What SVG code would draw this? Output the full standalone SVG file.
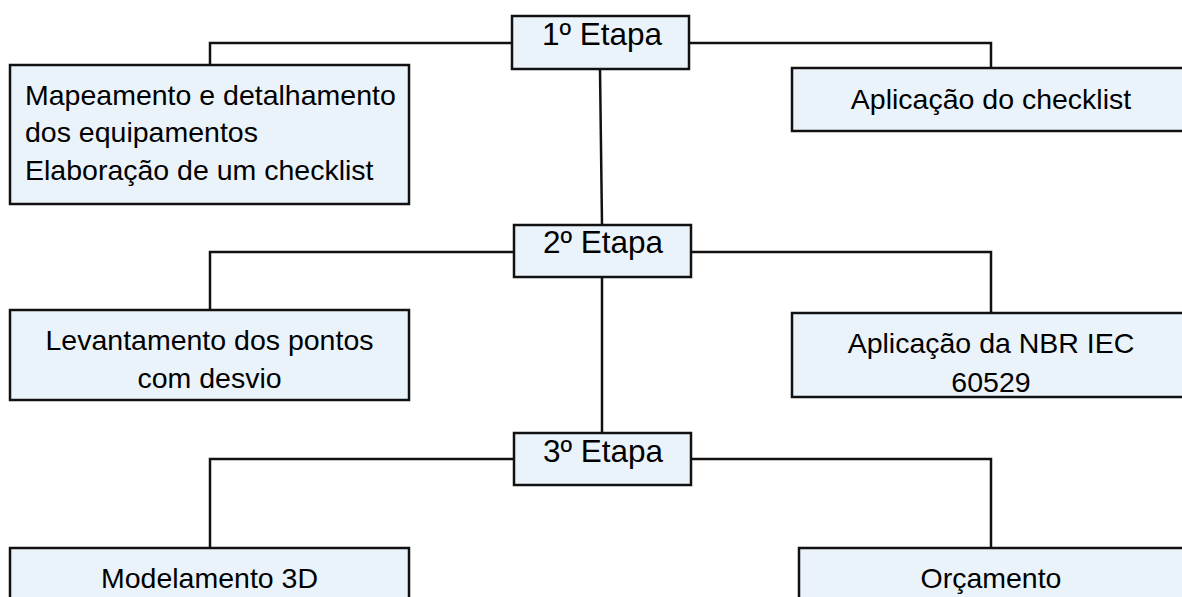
<svg xmlns="http://www.w3.org/2000/svg" width="1182" height="597" viewBox="0 0 1182 597">
<style>
.box{fill:#EBF3FA;stroke:#111;stroke-width:2.5}
.ln{fill:none;stroke:#111;stroke-width:2.5}
text{font-family:"Liberation Sans",Arial,sans-serif;fill:#000}
.t{font-size:28.5px}
.e{font-size:31.5px}
.c{text-anchor:middle}
</style>
<rect width="1182" height="597" fill="#fff"/>
<g id="connectors">
<polyline class="ln" points="210,65 210,43 512,43"/>
<polyline class="ln" points="689,43 991,43 991,68"/>
<line class="ln" x1="600" y1="69" x2="602" y2="225"/>
<polyline class="ln" points="210,310 210,252 514,252"/>
<polyline class="ln" points="691,252 991,252 991,313"/>
<line class="ln" x1="602" y1="277" x2="602" y2="433"/>
<polyline class="ln" points="210,548 210,459 514,459"/>
<polyline class="ln" points="691,459 991,459 991,548"/>
</g>
<g id="etapa1">
<rect class="box" x="512" y="16" width="177" height="53"/>
<text class="e c" x="602" y="45">1º Etapa</text>
</g>
<g id="mapeamento">
<rect class="box" x="10" y="65" width="399" height="139"/>
<text class="t" x="25" y="105">Mapeamento e detalhamento</text>
<text class="t" x="25" y="142">dos equipamentos</text>
<text class="t" x="25" y="180">Elaboração de um checklist</text>
</g>
<g id="aplicacao-checklist">
<rect class="box" x="792" y="68" width="400" height="63"/>
<text class="t c" x="991" y="109">Aplicação do checklist</text>
</g>
<g id="etapa2">
<rect class="box" x="514" y="225" width="177" height="52"/>
<text class="e c" x="603" y="253">2º Etapa</text>
</g>
<g id="levantamento">
<rect class="box" x="10" y="310" width="399" height="90"/>
<text class="t c" x="209.5" y="350">Levantamento dos pontos</text>
<text class="t c" x="209.5" y="388">com desvio</text>
</g>
<g id="nbr">
<rect class="box" x="792" y="313" width="400" height="84"/>
<text class="t c" x="991" y="353">Aplicação da NBR IEC</text>
<text class="t c" x="991" y="392">60529</text>
</g>
<g id="etapa3">
<rect class="box" x="514" y="433" width="177" height="52"/>
<text class="e c" x="603" y="462">3º Etapa</text>
</g>
<g id="modelamento">
<rect class="box" x="10" y="548" width="399" height="60"/>
<text class="t c" x="209.5" y="588">Modelamento 3D</text>
</g>
<g id="orcamento">
<rect class="box" x="799" y="548" width="393" height="60"/>
<text class="t c" x="991" y="588">Orçamento</text>
</g>
</svg>
